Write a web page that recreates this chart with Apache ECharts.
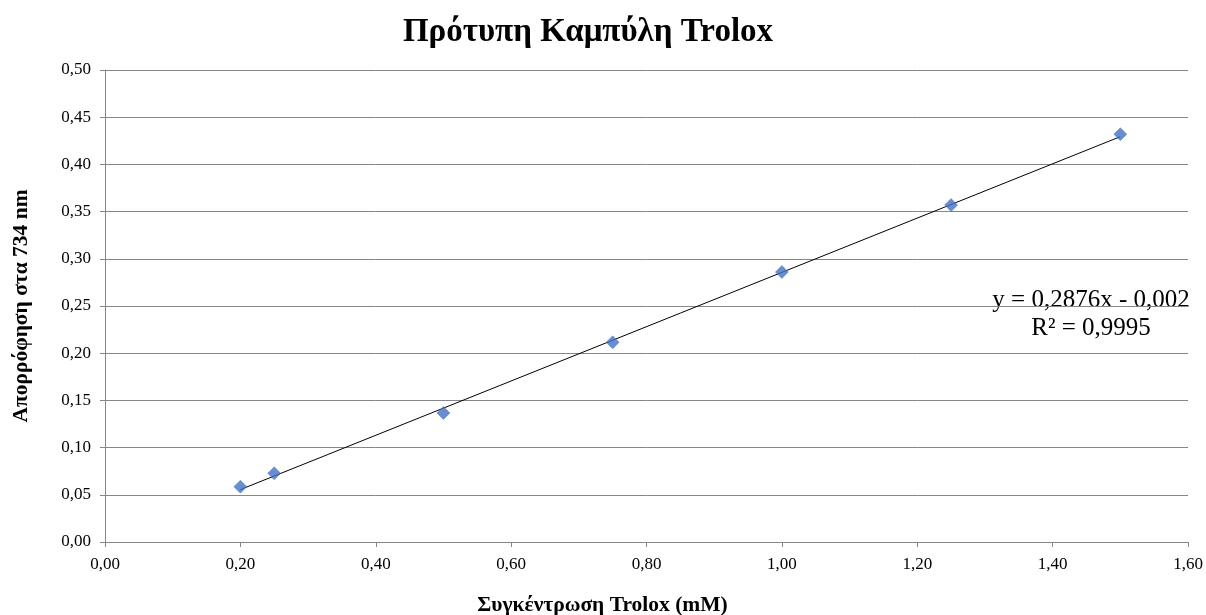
<!DOCTYPE html>
<html>
<head>
<meta charset="utf-8">
<script src="https://cdn.jsdelivr.net/npm/echarts@6/dist/echarts.min.js"></script>
<style>html,body{margin:0;padding:0;background:#fff}#c{width:1206px;height:615px}</style>
</head>
<body>
<div id="c"></div>
<script>
const concentrations = [0.20, 0.25, 0.50, 0.75, 1.00, 1.25, 1.50];
const absorbances = [0.0586, 0.0728, 0.1367, 0.2115, 0.2860, 0.3570, 0.4320];
const trendSlope = 0.2876;
const trendIntercept = -0.002;
const trendRange = [0.20, 1.50];
const titleText = 'Πρότυπη Καμπύλη Trolox';
const xAxisName = 'Συγκέντρωση Trolox (mM)';
const yAxisName = 'Απορρόφηση στα 734 nm';
const equationLines = ['y = 0,2876x - 0,002', 'R² = 0,9995'];

const fmt = v => v.toFixed(2).replace('.', ',');
const trendData = trendRange.map(x => [x, trendSlope * x + trendIntercept]);
const font = '"Liberation Serif", "Times New Roman", serif';

const chart = echarts.init(document.getElementById('c'));
chart.setOption({
  animation: false,
  backgroundColor: '#fff',
  title: {
    text: titleText, left: 583, top: 11, textAlign: 'center',
    textStyle: { fontFamily: font, fontSize: 33, fontWeight: 'bold', color: '#000' }
  },
  grid: { left: 105, right: 18, top: 70, bottom: 73, containLabel: false, outerBoundsMode: 'none' },
  xAxis: {
    type: 'value', min: 0, max: 1.6, interval: 0.2,
    name: xAxisName, nameLocation: 'middle', nameGap: 52,
    nameTextStyle: { fontFamily: font, fontSize: 21.5, fontWeight: 'bold', color: '#000', padding: [0, 88, 0, 0] },
    axisLine: { show: true, lineStyle: { color: '#868686', width: 1 } },
    axisTick: { show: true, length: 5, lineStyle: { color: '#868686' } },
    axisLabel: { formatter: fmt, fontFamily: font, fontSize: 17, color: '#000', margin: 14 },
    splitLine: { show: false }
  },
  yAxis: {
    type: 'value', min: 0, max: 0.5, interval: 0.05,
    name: yAxisName, nameLocation: 'middle', nameGap: 73,
    nameTextStyle: { fontFamily: font, fontSize: 21.5, fontWeight: 'bold', color: '#000' },
    axisLine: { show: true, lineStyle: { color: '#868686', width: 1 } },
    axisTick: { show: true, length: 5, lineStyle: { color: '#868686' } },
    axisLabel: { formatter: fmt, fontFamily: font, fontSize: 17, color: '#000', margin: 14 },
    splitLine: { show: true, lineStyle: { color: '#868686', width: 1 } }
  },
  series: [
    {
      type: 'line', data: trendData, symbol: 'none', silent: true,
      lineStyle: { color: '#000', width: 1 }, z: 2
    },
    {
      type: 'scatter', data: concentrations.map((x, i) => [x, absorbances[i]]),
      symbol: 'diamond', symbolSize: 13,
      itemStyle: { color: '#4472C4', borderColor: '#3F6BB8', borderWidth: 0.5 }, z: 3
    }
  ],
  graphic: [
    { type: 'text', x: 1091, y: 300,
      style: { text: equationLines[0], font: '25px ' + font, fill: '#000', textAlign: 'center', textVerticalAlign: 'middle' } },
    { type: 'text', x: 1091, y: 328,
      style: { text: equationLines[1], font: '25px ' + font, fill: '#000', textAlign: 'center', textVerticalAlign: 'middle' } }
  ]
});
</script>
</body>
</html>
